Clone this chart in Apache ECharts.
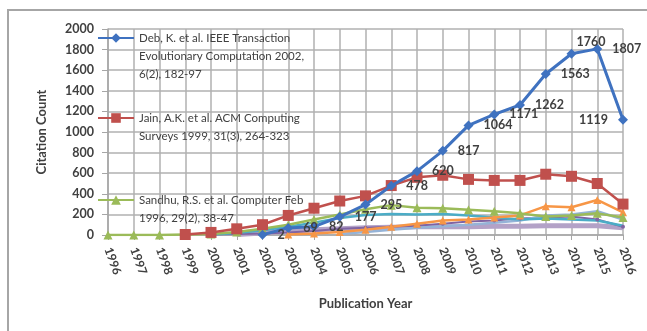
<!DOCTYPE html>
<html>
<head>
<meta charset="utf-8">
<script src="https://cdn.jsdelivr.net/npm/echarts@6/dist/echarts.min.js"></script>
<style>
  html, body { margin: 0; padding: 0; background: #fff; }
  #chart { width: 647px; height: 331px; }
</style>
</head>
<body>
<div id="chart"></div>
<script>
const years = ['1996', '1997', '1998', '1999', '2000', '2001', '2002', '2003', '2004', '2005', '2006',
    '2007', '2008', '2009', '2010', '2011', '2012', '2013', '2014', '2015', '2016'];

// the three papers named in the legend
const debName = 'Deb, K. et al. IEEE Transaction\nEvolutionary Computation 2002,\n6(2), 182-97';
const jainName = 'Jain, A.K. et al. ACM Computing\nSurveys 1999, 31(3), 264-323';
const sandhuName = 'Sandhu, R.S. et al. Computer Feb\n1996, 29(2), 38-47';

const deb = [null, null, null, null, null, null, 2, 69, 82, 177, 295, 478, 620, 817, 1064, 1171, 1262, 1563, 1760, 1807, 1119];
const jain = [null, null, null, 5, 25, 60, 100, 190, 260, 330, 380, 480, 560, 580, 540, 530, 530, 590, 570, 500, 300];
const sandhu = [0, 0, 0, 5, 10, 30, 60, 100, 150, 200, 250, 290, 265, 260, 245, 230, 210, 180, 190, 210, 170];

// other papers (no legend entry shown)
const teal = [null, null, null, null, 5, 20, 45, 80, 120, 165, 195, 205, 200, 205, 190, 170, 150, 160, 150, 140, 90];
const orange = [null, null, null, null, null, null, null, 5, 15, 30, 50, 80, 110, 140, 150, 170, 190, 280, 270, 340, 220];
const purple = [null, null, null, null, 5, 10, 15, 25, 40, 60, 70, 80, 90, 110, 130, 140, 160, 170, 180, 150, 80];
const lavender = [null, null, null, null, null, 5, 20, 40, 50, 60, 70, 75, 80, 80, 80, 85, 85, 90, 90, 90, 70];
const lightBlue = [null, null, null, null, null, null, null, null, null, 10, 30, 50, 70, 85, 100, 120, 140, 190, 200, 230, 150];

const yTicks = { min: 0, max: 2000, interval: 200 };

const textColor = '#404040';
const font = 'Lato';

const chart = echarts.init(document.getElementById('chart'));

// legend icon sits on the first text line: pad the text with blank lines above
const legendBase = (name, iconY, lines) => ({
    data: [name],
    left: 97,
    top: iconY - (lines - 1) * 18 - 9,
    orient: 'vertical',
    padding: 0,
    itemWidth: 36,
    itemHeight: 12,
    formatter: (n) => '\n'.repeat(lines - 1) + n,
    textStyle: {
        color: textColor,
        fontFamily: font,
        fontSize: 11.5,
        lineHeight: 18
    }
});

const last = deb.length - 1;
const debData = deb.map((v, i) => {
    if (i === last) return { value: v, label: { position: 'left' } };
    if (i === last - 2) return { value: v, label: { position: 'insideBottomLeft', offset: [24, -4] } };
    return v;
});

const option = {
    backgroundColor: '#fff',
    animation: false,
    graphic: [{
        type: 'rect',
        shape: { x: 8, y: 10, width: 680, height: 360 },
        style: { fill: 'none', stroke: '#a6a6a6', lineWidth: 2 },
        silent: true,
        z: -1
    }],
    grid: { left: 108, right: 24, top: 29, bottom: 96 },
    legend: [
        legendBase(debName, 38, 3),
        legendBase(jainName, 118, 2),
        legendBase(sandhuName, 200, 2)
    ],
    xAxis: {
        type: 'category',
        data: years,
        boundaryGap: false,
        name: 'Publication Year',
        nameLocation: 'middle',
        nameGap: 62,
        nameTextStyle: { color: textColor, fontFamily: font, fontSize: 13, fontWeight: 'bold' },
        axisLine: { lineStyle: { color: '#a6a6a6', width: 1.5 } },
        axisTick: { show: true, alignWithLabel: true, length: 5, lineStyle: { color: '#a6a6a6' } },
        axisLabel: {
            rotate: -70,
            margin: 13,
            color: textColor,
            fontFamily: font,
            fontSize: 12,
            fontWeight: 'bold',
            interval: 0
        },
        splitLine: { show: true, lineStyle: { color: '#b0b0b0', width: 1.5 } }
    },
    yAxis: {
        type: 'value',
        min: yTicks.min,
        max: yTicks.max,
        interval: yTicks.interval,
        name: 'Citation Count',
        nameLocation: 'middle',
        nameGap: 60,
        nameTextStyle: { color: textColor, fontFamily: font, fontSize: 13, fontWeight: 'bold' },
        axisLine: { show: true, lineStyle: { color: '#a6a6a6', width: 1.5 } },
        axisTick: { show: true, length: 6, lineStyle: { color: '#a6a6a6' } },
        axisLabel: {
            color: textColor, fontFamily: font, fontSize: 12.5, fontWeight: 'bold', margin: 14,
            formatter: (v) => String(v)
        },
        splitLine: { lineStyle: { color: '#b0b0b0', width: 1.5 } }
    },
    series: [
        {
            name: 'Other 4', type: 'line', data: lavender, symbol: 'none',
            lineStyle: { color: '#b3a2c7', width: 5 }, itemStyle: { color: '#b3a2c7' }, z: 1
        },
        {
            name: 'Other 3', type: 'line', data: purple, symbol: 'circle', symbolSize: 4,
            lineStyle: { color: '#8064a2', width: 2 }, itemStyle: { color: '#8064a2' }, z: 1
        },
        {
            name: 'Other 5', type: 'line', data: lightBlue, symbol: 'none',
            lineStyle: { color: '#95b3d7', width: 2.5 }, itemStyle: { color: '#95b3d7' }, z: 1
        },
        {
            name: 'Other 1', type: 'line', data: teal, symbol: 'none',
            lineStyle: { color: '#4bacc6', width: 2.5 }, itemStyle: { color: '#4bacc6' }, z: 1
        },
        {
            name: 'Other 2', type: 'line', data: orange, symbol: 'triangle', symbolSize: 8,
            lineStyle: { color: '#f79646', width: 2.5 }, itemStyle: { color: '#f79646' }, z: 1
        },
        {
            name: sandhuName, type: 'line', data: sandhu, symbol: 'triangle', symbolSize: 9,
            lineStyle: { color: '#9bbb59', width: 2.5 }, itemStyle: { color: '#9bbb59' }, z: 2
        },
        {
            name: jainName, type: 'line', data: jain, symbol: 'rect', symbolSize: 11,
            lineStyle: { color: '#c0504d', width: 2.5 }, itemStyle: { color: '#c0504d' }, z: 3
        },
        {
            name: debName, type: 'line', data: debData, symbol: 'diamond', symbolSize: 10,
            lineStyle: { color: '#3f72c0', width: 3 }, itemStyle: { color: '#3f72c0' }, z: 4,
            label: {
                show: true,
                position: 'right',
                distance: 10,
                color: textColor,
                fontFamily: font,
                fontSize: 12.5,
                fontWeight: 'bold'
            },
            labelLayout: { hideOverlap: false }
        }
    ]
};

chart.setOption(option);
</script>
</body>
</html>
